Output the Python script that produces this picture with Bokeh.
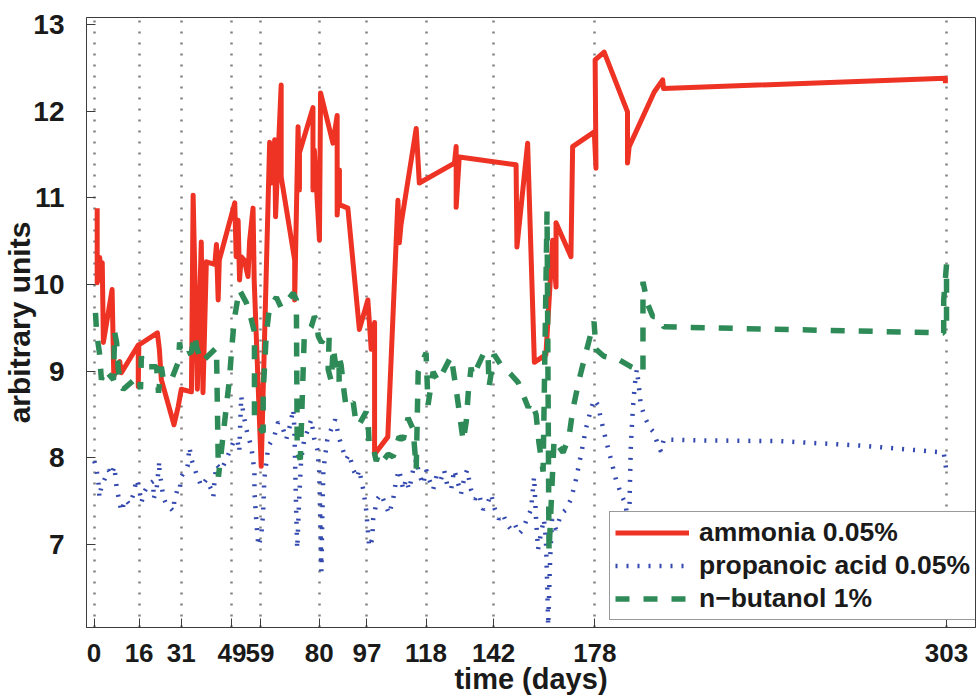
from bokeh.plotting import figure
from bokeh.models import Range1d, FixedTicker
from bokeh.embed import file_html
from bokeh.resources import INLINE

# Tick positions (days of measurement) and value ticks
x_ticks = [0, 16, 31, 49, 59, 80, 97, 118, 142, 178, 303]
y_ticks = [7, 8, 9, 10, 11, 12, 13]

# ammonia 0.05%
ammonia_days = [
    1.1, 1.1, 2.0, 2.4, 2.9, 3.3, 6.4, 7.0, 9.1, 9.7,
    15.7, 15.7, 15.9, 22.5, 23.2, 23.9, 28.4, 29.9, 31.0, 34.6,
    35.2, 36.0, 36.7, 38.1, 38.7, 39.9, 42.9, 43.5, 44.1, 44.5,
    50.0, 50.5, 51.2, 51.7, 52.3, 53.4, 54.7, 55.3, 56.5, 56.9,
    59.4, 62.4, 63.0, 64.2, 64.5, 65.1, 66.5, 66.5, 71.3, 71.3,
    72.5, 73.0, 73.0, 77.8, 77.8, 78.3, 80.1, 80.5, 84.9, 86.4,
    86.4, 87.2, 87.2, 90.2, 94.3, 97.3, 98.5, 99.7, 99.7, 104.4,
    108.0, 108.5, 109.1, 114.5, 115.6, 128.1, 128.7, 128.7, 129.8, 150.0,
    150.3, 154.1, 156.5, 160.6, 163.0, 164.2, 164.2, 169.5, 170.1, 177.8,
    178.4, 178.1, 181.3, 189.6, 189.6, 190.2, 199.1, 202.1, 202.4, 302.6,
    302.6,
]
ammonia_vals = [
    10.88, 10.02, 10.31, 10.05, 10.25, 9.33, 9.94, 8.94, 9.11, 8.98,
    9.30, 8.82, 9.30, 9.44, 9.25, 8.90, 8.38, 8.59, 8.79, 8.76,
    11.03, 9.82, 8.79, 10.49, 8.75, 10.26, 10.23, 10.46, 9.82, 10.28,
    10.94, 10.32, 10.74, 10.05, 10.32, 10.28, 10.09, 10.51, 10.88, 10.05,
    7.90, 11.64, 11.17, 11.67, 10.78, 11.26, 12.30, 11.24, 10.28, 9.82,
    11.82, 11.09, 11.52, 12.04, 11.09, 11.55, 10.51, 12.21, 11.63, 11.95,
    10.80, 11.32, 10.92, 10.88, 9.48, 9.82, 9.25, 9.56, 8.04, 8.24,
    10.97, 10.48, 10.69, 11.80, 11.17, 11.40, 11.59, 10.89, 11.47, 11.38,
    10.43, 11.63, 9.10, 9.19, 10.51, 9.97, 10.71, 10.32, 11.59, 11.76,
    11.34, 12.59, 12.68, 11.99, 11.40, 11.59, 12.22, 12.36, 12.26, 12.38,
    12.32,
]

# propanoic acid 0.05%
propanoic_days = [
    0.1, 0.9, 1.6, 1.9, 2.6, 3.7, 5.1, 6.2, 7.2, 8.0,
    9.0, 9.7, 11.1, 12.6, 14.0, 15.1, 16.1, 16.8, 17.9, 19.3,
    21.1, 21.1, 22.2, 23.2, 23.2, 23.9, 24.6, 25.7, 26.8, 28.2,
    28.5, 29.6, 30.3, 31.0, 32.5, 33.2, 33.9, 34.6, 36.4, 37.4,
    38.1, 39.9, 41.7, 42.4, 42.7, 43.5, 45.2, 47.0, 48.8, 49.5,
    50.9, 51.6, 52.3, 53.0, 54.1, 55.9, 57.0, 57.0, 57.7, 58.4,
    59.4, 60.1, 60.5, 61.9, 64.0, 65.4, 67.2, 68.3, 69.7, 70.8,
    71.2, 71.5, 71.9, 72.2, 72.9, 73.6, 74.7, 76.1, 77.2, 78.3,
    79.3, 80.0, 80.4, 80.8, 81.1, 81.5, 82.9, 84.3, 85.7, 86.8,
    87.8, 89.6, 90.7, 92.1, 93.5, 94.2, 95.7, 96.7, 97.8, 98.9,
    99.2, 100.6, 102.0, 103.5, 104.9, 106.3, 107.4, 108.4, 109.9, 110.9,
    112.0, 113.4, 114.5, 115.5, 117.0, 118.0, 119.1, 120.5, 121.9, 123.3,
    124.4, 125.5, 126.9, 128.0, 129.0, 130.4, 131.5, 132.6, 134.0, 135.4,
    136.8, 138.3, 139.7, 141.1, 142.5, 143.9, 145.3, 146.8, 148.2, 149.6,
    151.0, 152.4, 153.8, 155.3, 156.4, 157.1, 157.8, 158.8, 159.9, 160.6,
    161.0, 161.4, 162.1, 162.8, 164.2, 166.0, 167.7, 169.5, 171.3, 173.1,
    174.8, 176.6, 177.7, 179.1, 180.2, 181.9, 183.7, 185.5, 187.3, 189.0,
    190.1, 190.5, 190.8, 191.5, 192.2, 192.9, 193.6, 194.3, 196.1, 197.9,
    199.0, 200.4, 201.5, 202.5, 215.7, 244.1, 272.5, 302.0, 303.0,
]
propanoic_vals = [
    7.96, 7.86, 7.69, 7.54, 7.67, 7.75, 7.86, 7.80, 7.90, 7.66,
    7.49, 7.38, 7.52, 7.46, 7.58, 7.75, 7.63, 7.48, 7.61, 7.69,
    7.73, 7.52, 7.63, 7.96, 7.84, 7.71, 7.54, 7.46, 7.43, 7.38,
    7.50, 7.63, 7.61, 7.78, 7.86, 7.90, 8.12, 7.98, 7.81, 7.73,
    7.67, 7.75, 7.63, 7.55, 7.69, 7.92, 7.86, 7.98, 8.12, 8.18,
    8.21, 8.07, 8.71, 8.52, 8.33, 8.12, 7.84, 7.60, 7.25, 6.98,
    7.09, 7.37, 7.75, 8.13, 8.24, 8.41, 8.33, 8.21, 8.38, 8.56,
    8.33, 7.86, 7.29, 6.95, 7.52, 7.98, 8.21, 8.33, 8.44, 8.21,
    8.10, 7.86, 7.29, 6.69, 7.29, 7.86, 8.21, 8.33, 8.44, 8.27,
    8.15, 7.98, 8.04, 7.86, 7.77, 7.86, 7.63, 7.40, 6.97, 7.06,
    7.29, 7.52, 7.58, 7.46, 7.35, 7.52, 7.75, 7.86, 7.63, 7.75,
    7.63, 7.86, 7.98, 7.81, 7.69, 7.86, 7.75, 7.63, 7.81, 7.75,
    7.86, 7.69, 7.63, 7.86, 7.75, 7.58, 7.75, 7.86, 7.63, 7.52,
    7.58, 7.40, 7.46, 7.58, 7.40, 7.29, 7.35, 7.23, 7.17, 7.23,
    7.12, 7.17, 7.29, 7.40, 7.78, 7.29, 6.94, 7.12, 7.29, 7.06,
    6.60, 6.06, 6.83, 7.29, 7.17, 7.35, 7.40, 7.52, 7.75, 8.04,
    8.33, 8.56, 8.67, 8.61, 8.44, 8.21, 7.98, 7.75, 7.58, 7.46,
    7.06, 7.75, 8.15, 8.56, 8.84, 9.02, 8.84, 8.61, 8.44, 8.33,
    8.29, 8.15, 8.07, 8.21, 8.20, 8.19, 8.14, 8.06, 7.84,
]

# n-butanol 1%
butanol_days = [
    0.5, 0.9, 1.9, 2.6, 3.7, 6.9, 7.3, 8.0, 8.6, 9.7,
    10.4, 15.7, 16.5, 16.8, 17.5, 22.2, 22.9, 23.9, 24.6, 27.5,
    30.0, 30.4, 31.0, 34.6, 35.8, 36.4, 38.1, 43.5, 44.2, 47.5,
    48.1, 48.8, 49.8, 51.6, 54.1, 55.2, 57.0, 57.0, 60.1, 60.1,
    61.2, 62.3, 64.8, 66.5, 70.8, 71.9, 72.2, 73.3, 74.7, 77.2,
    78.3, 79.0, 79.7, 80.8, 83.6, 83.2, 84.3, 85.0, 86.1, 87.1,
    87.1, 87.8, 88.9, 89.6, 92.1, 93.2, 94.2, 96.7, 97.4, 97.8,
    99.2, 100.3, 101.3, 103.1, 104.5, 106.3, 108.4, 109.9, 111.6, 113.4,
    114.5, 115.2, 118.0, 118.7, 120.5, 122.3, 126.9, 128.7, 131.2, 132.3,
    133.0, 134.0, 134.7, 138.3, 140.0, 140.4, 142.2, 144.6, 148.2, 150.7,
    154.3, 155.4, 157.1, 158.1, 159.6, 161.0, 161.7, 163.5, 166.7, 168.8,
    170.2, 172.4, 174.8, 177.7, 178.4, 181.2, 186.6, 190.8, 195.1, 195.1,
    196.8, 198.6, 200.4, 202.5, 302.0, 302.0, 303.0, 303.0,
]
butanol_vals = [
    9.67, 9.44, 9.21, 8.90, 9.02, 8.90, 9.45, 9.33, 9.02, 8.82,
    8.79, 8.94, 8.79, 9.17, 9.05, 9.05, 8.75, 9.05, 8.90, 8.90,
    9.11, 9.33, 9.17, 9.22, 9.42, 9.28, 9.10, 9.27, 7.78, 8.73,
    8.90, 9.21, 9.59, 9.94, 9.79, 9.68, 9.45, 8.44, 8.29, 8.75,
    9.42, 9.73, 9.85, 9.73, 9.90, 9.82, 8.07, 7.98, 9.40, 9.51,
    9.63, 9.59, 9.40, 9.33, 9.44, 9.02, 8.88, 9.27, 9.02, 8.88,
    9.16, 9.07, 8.75, 8.58, 8.64, 8.38, 8.38, 8.53, 8.41, 8.13,
    8.12, 7.96, 8.06, 7.98, 8.04, 8.01, 8.24, 8.21, 8.46, 8.33,
    7.87, 8.99, 9.21, 8.61, 8.99, 8.88, 9.17, 8.79, 8.19, 8.42,
    8.75, 9.04, 8.94, 9.19, 9.22, 8.82, 9.19, 9.07, 8.96, 8.87,
    8.58, 8.65, 8.50, 8.18, 7.84, 10.84, 6.91, 8.21, 8.06, 8.24,
    8.56, 8.90, 9.21, 9.57, 9.25, 9.17, 9.13, 9.05, 8.99, 10.03,
    9.77, 9.63, 9.63, 9.51, 9.44, 9.82, 10.23, 9.44,
]

TEXT = "#1a1a1a"
FRAME = "#3c3c3c"

p = figure(
    width=979, height=697,
    x_range=Range1d(-2.7, 313.3), y_range=Range1d(6.04, 13.08),
    output_backend="svg", toolbar_location=None,
    min_border_left=85, min_border_right=4, min_border_top=17, min_border_bottom=69,
)
p.background_fill_color = "white"
p.border_fill_color = "white"
p.outline_line_color = FRAME
p.outline_line_width = 1

# vertical dotted grid at the measurement days only
p.xgrid.ticker = FixedTicker(ticks=x_ticks)
p.xgrid.grid_line_color = "#808080"
p.xgrid.grid_line_width = 2.5
p.xgrid.grid_line_dash = "2 9"
p.ygrid.visible = False

for ax in (p.xaxis[0], p.yaxis[0]):
    ax.axis_line_color = FRAME
    ax.major_tick_line_color = FRAME
    ax.major_tick_in = 9
    ax.major_tick_out = 0
    ax.minor_tick_in = 0
    ax.minor_tick_out = 0
    ax.major_label_text_color = TEXT
    ax.major_label_text_font = "Liberation Sans"
    ax.major_label_text_font_style = "bold"
    ax.axis_label_text_color = TEXT
    ax.axis_label_text_font = "Liberation Sans"
    ax.axis_label_text_font_style = "bold"

p.xaxis.ticker = FixedTicker(ticks=x_ticks)
p.xaxis.major_label_text_font_size = "26px"
p.xaxis.major_label_standoff = 16
p.xaxis.axis_label = "time (days)"
p.xaxis.axis_label_text_font_size = "29px"
p.xaxis.axis_label_standoff = -2

p.yaxis.ticker = FixedTicker(ticks=y_ticks)
p.yaxis.major_label_text_font_size = "28px"
p.yaxis.major_label_standoff = 22
p.yaxis.axis_label = "arbitrary units"
p.yaxis.axis_label_text_font_size = "30px"
p.yaxis.axis_label_standoff = -6

p.line(ammonia_days, ammonia_vals, color="#ee3224", line_width=5,
       line_join="round", legend_label="ammonia 0.05%")
p.line(propanoic_days, propanoic_vals, color="#3349b0", line_width=4.5,
       line_dash="2 9", legend_label="propanoic acid 0.05%")
p.line(butanol_days, butanol_vals, color="#2e8b57", line_width=5.5,
       line_dash="14 14", legend_label="n\u2212butanol 1%")

leg = p.legend[0]
leg.location = (523, 7)
leg.margin = 0
leg.padding = 5
leg.spacing = 2
leg.glyph_width = 74
leg.glyph_height = 27
leg.label_height = 27
leg.label_standoff = 10
leg.label_text_font = "Liberation Sans"
leg.label_text_font_style = "bold"
leg.label_text_font_size = "26.5px"
leg.label_text_color = TEXT
leg.border_line_color = "#333333"
leg.border_line_width = 1
leg.background_fill_color = "white"
leg.background_fill_alpha = 1.0

open("out.html", "w").write(file_html(p, INLINE))
